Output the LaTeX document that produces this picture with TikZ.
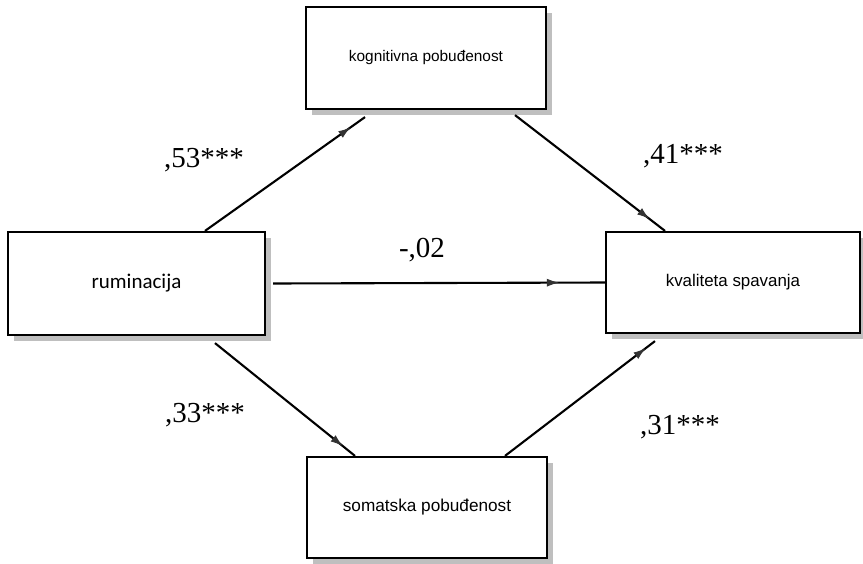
\documentclass[tikz,border=0pt]{standalone}
\usepackage{fontspec}
\setmainfont{Liberation Serif}
\newfontfamily\arialf{Liberation Sans}
\newfontfamily\calibrif{Carlito}
\usetikzlibrary{shadows,decorations.markings,arrows.meta}
\begin{document}
\begin{tikzpicture}[x=1pt,y=-1pt,
  varbox/.style={draw=black,line width=2.2pt,fill=white,inner sep=0pt,
    drop shadow={shadow xshift=6pt,shadow yshift=-6pt,fill=gray!50,opacity=1}},
  coef/.style={font=\fontsize{29}{34}\selectfont},
  path/.style={line width=2.1pt},
  tipat/.style={postaction={decorate},decoration={markings,
    mark=at position #1 with {\arrow[fill=gray!45,draw=gray!40!black,line width=0.9pt]{Latex[length=12pt,width=8pt]}}}}
]
\useasboundingbox (0,0) rectangle (863,563);
\node[varbox,minimum width=240pt,minimum height=102pt,font=\arialf\fontsize{15.4}{18}\selectfont] (kog) at (426,58) {kognitivna pobuđenost};
\node[varbox,minimum width=257pt,minimum height=103pt,font=\calibrif\fontsize{21}{25}\selectfont] (rum) at (136.5,283.5) {ruminacija};
\node[varbox,minimum width=254pt,minimum height=101pt,font=\arialf\fontsize{16.9}{20}\selectfont] (kval) at (733,282.5) {kvaliteta spavanja};
\node[varbox,minimum width=240pt,minimum height=101pt,font=\arialf\fontsize{17.2}{20}\selectfont] (som) at (427,507.5) {somatska pobuđenost};

\draw[path,tipat=-18pt] ([xshift=68.5pt]rum.north) -- ([xshift=-61pt,yshift=-7pt]kog.south);
\draw[path,tipat=-20pt] ([xshift=89pt,yshift=-5pt]kog.south) -- ([xshift=-68pt]kval.north);
\draw[path,tipat=-46pt] ([xshift=7pt]rum.east) -- (kval.west);
\draw[path,tipat=-16pt] ([xshift=78.5pt,yshift=-7pt]rum.south) -- ([xshift=-72pt]som.north);
\draw[path,tipat=-12pt] ([xshift=78pt]som.north) -- ([xshift=-78pt,yshift=-7pt]kval.south);

\node[coef] (c53) at (204,160) {,53***};
\node[coef] (c41) at (683,156) {,41***};
\node[coef] (c02) at (422,250) {-,02};
\node[coef] (c33) at (205,415) {,33***};
\node[coef] (c31) at (680,427) {,31***};
\end{tikzpicture}
\end{document}
